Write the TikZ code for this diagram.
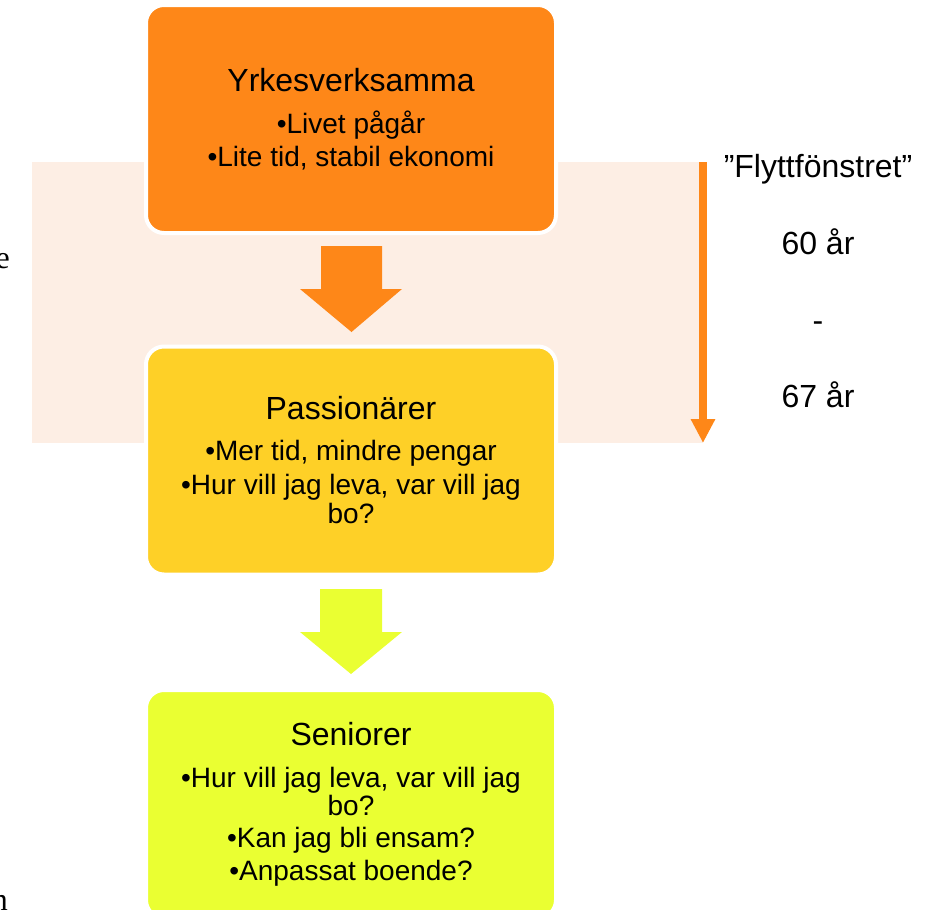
\documentclass[tikz,border=0pt]{standalone}
\usepackage{fontspec}
\setmainfont{Liberation Sans}
\newfontfamily\seriffont{Liberation Serif}
\usetikzlibrary{positioning, arrows.meta}

\definecolor{boxorange}{RGB}{254,135,24}
\definecolor{boxyellow}{RGB}{254,208,39}
\definecolor{boxlime}{RGB}{234,255,50}
\definecolor{bandpeach}{RGB}{253,238,228}

\begin{document}
\begin{tikzpicture}[x=1pt, y=-1pt,
    stagebox/.style={draw=white, line width=4pt, rounded corners=18pt, minimum width=410pt, minimum height=228pt, inner sep=0pt},
    stagetitle/.style={anchor=base, inner sep=0pt, font=\fontsize{32}{38}\selectfont},
    stageline/.style={anchor=base, inner sep=0pt, font=\fontsize{28}{33}\selectfont},
    sidetext/.style={anchor=base, inner sep=0pt, font=\fontsize{32}{38}\selectfont}]
      \clip (0,0) rectangle (938,910);

      % Flyttfoenster band
      \fill[bandpeach] (32,162) rectangle (703,443);

      % Stages
      \node[stagebox, fill=boxorange] (yrk) at (351,119) {};
      \node[stagebox, fill=boxyellow] (pass) at (351,460.5) {};
      \node[stagebox, fill=boxlime] (sen) at (351,804) {};

      % Block arrows between the stages
      \fill[boxorange] (321,246) -- (382,246) -- (382,289) -- (402,289) -- (351.5,332) -- (300,289) -- (321,289) -- cycle;
      \fill[boxlime] (320,589) -- (382,589) -- (382,632) -- (402,632) -- (351,674) -- (300,632) -- (320,632) -- cycle;

      % Texts
      \node[stagetitle] (yrkT) at (351,91) {Yrkesverksamma};
      \node[stageline] (yrk1) at (351,133) {•Livet pågår};
      \node[stageline] (yrk2) at (351,166) {•Lite tid, stabil ekonomi};

      \node[stagetitle] (passT) at (351,419) {Passionärer};
      \node[stageline] (pass1) at (351,460) {•Mer tid, mindre pengar};
      \node[stageline] (pass2) at (351,494) {•Hur vill jag leva, var vill jag};
      \node[stageline] (pass3) at (351,523) {bo?};

      \node[stagetitle] (senT) at (351,745) {Seniorer};
      \node[stageline] (sen1) at (351,787) {•Hur vill jag leva, var vill jag};
      \node[stageline] (sen2) at (351,815) {bo?};
      \node[stageline] (sen3) at (351,847) {•Kan jag bli ensam?};
      \node[stageline] (sen4) at (351,880) {•Anpassat boende?};

      % Time window
      \coordinate (wtop) at (703,162);
      \coordinate (wbot) at (703,443);
      \draw[boxorange, line width=8pt, -{Triangle[width=23pt, length=24pt]}] (wtop) -- (wbot);

      \node[sidetext] (fonster) at (818,177) {”Flyttfönstret”};
      \node[sidetext] (age60) at (818,254) {60 år};
      \node[sidetext] (dash) at (818,331) {-};
      \node[sidetext] (age67) at (818,407) {67 år};

      % Cut off letters at the left edge
      \node[anchor=base east, inner sep=0pt, font=\seriffont\fontsize{32}{38}\selectfont] (frage) at (10,268) {e};
      \node[anchor=base east, inner sep=0pt, font=\seriffont\fontsize{32}{38}\selectfont] (fragn) at (8,910) {n};
    \end{tikzpicture}
\end{document}
